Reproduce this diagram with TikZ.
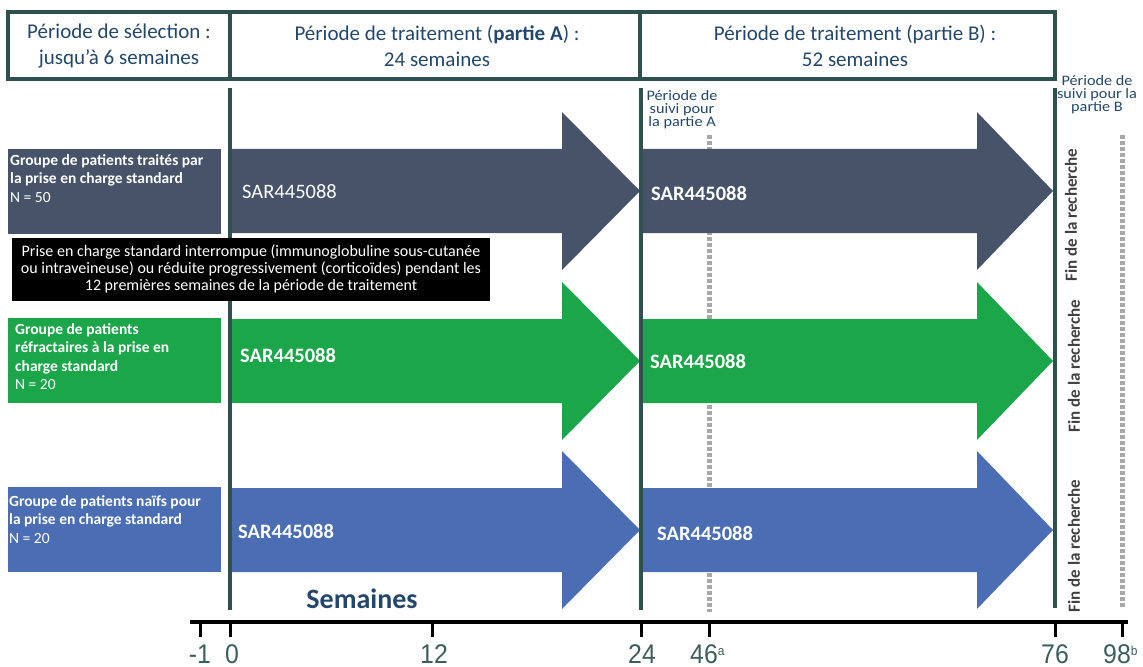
\documentclass[tikz,border=0pt]{standalone}
\usepackage{fontspec}
\setmainfont{Carlito}
\newfontfamily\narrowfont[FakeStretch=0.92]{Liberation Sans}
\newfontfamily\widefont[FakeStretch=1.12]{Carlito}
\usetikzlibrary{calc}
\definecolor{teal}{HTML}{2E504E}
\definecolor{hdr}{HTML}{23476B}
\definecolor{darkarr}{HTML}{465369}
\definecolor{greenarr}{HTML}{1BA64A}
\definecolor{bluearr}{HTML}{4A6DB4}
\definecolor{dashgrey}{HTML}{A8A8A8}
\definecolor{ticktxt}{HTML}{3C5E5C}
\definecolor{fintxt}{HTML}{404040}
\newcommand{\fs}[2]{\fontsize{#1bp}{#2bp}\selectfont}
\tikzset{
  hdrbox/.style={draw=teal, line width=4bp},
  hdrtxt/.style={text=hdr, align=center, font=\fs{21}{26}},
  vline/.style={draw=teal, line width=4bp},
  dashl/.style={draw=dashgrey, line width=5bp, dash pattern=on 4bp off 2bp},
  grpbox/.style={anchor=north west, minimum width=213bp, minimum height=85bp, inner sep=0pt},
  grptxt/.style={anchor=north west, align=left, text=white, font=\fs{15.5}{18.5}, inner sep=0pt},
  sar/.style={anchor=west, text=white, font=\fs{20.5}{22}\bfseries, inner sep=0pt},
  fin/.style={rotate=90, text=fintxt, font=\fs{17}{18}\bfseries, inner sep=0pt},
  small/.style={text=hdr, align=center, font=\widefont\fs{14.5}{13}, inner sep=0pt},
  ticklab/.style={text=ticktxt, font=\narrowfont\fs{27}{28}, inner sep=0pt},
}
\begin{document}
\begin{tikzpicture}[x=1bp, y=-1bp]
\useasboundingbox (0,0) rectangle (1143,667);
% header boxes
\draw[hdrbox] (8,12) rectangle (230,79);
\draw[hdrbox] (230,12) rectangle (640,79);
\draw[hdrbox] (640,12) rectangle (1055,79);
\node[hdrtxt] (h1) at (119,46) {Période de sélection :\\jusqu’à 6 semaines};
\node[hdrtxt] (h2) at (437,46) {Période de traitement (\textbf{partie A}) :\\24 semaines};
\node[hdrtxt] (h3) at (855,46) {Période de traitement (partie B) :\\52 semaines};
% dashed follow-up lines
\draw[dashl] (709,135) -- (709,612);
\draw[dashl] (1122,135) -- (1122,608);
% small follow-up labels
\node[small] (sa) at (682,110) {Période de\\suivi pour\\la partie A};
\node[small] (sb) at (1097,95) {Période de\\suivi pour la\\partie B};
% arrows
\foreach \yc/\col in {191/darkarr, 361/greenarr, 530/bluearr}{
  \fill[\col] (232,\yc-42) -- (562,\yc-42) -- (562,\yc-79) -- (640,\yc) -- (562,\yc+79) -- (562,\yc+42) -- (232,\yc+42) -- cycle;
  \fill[\col] (643,\yc-42) -- (977,\yc-42) -- (977,\yc-79) -- (1053,\yc) -- (977,\yc+79) -- (977,\yc+42) -- (643,\yc+42) -- cycle;
}
% vertical lines
\draw[vline] (230,88) -- (230,610);
\draw[vline] (641,88) -- (641,610);
\draw[vline] (1055,88) -- (1055,608);
% group boxes
\node[grpbox, fill=darkarr] (g1) at (8,149) {};
\node[grpbox, fill=greenarr] (g2) at (8,318) {};
\node[grpbox, fill=bluearr] (g3) at (8,487) {};
\node[grptxt] (t1) at (10,154) {\textbf{Groupe de patients traités par}\\\textbf{la prise en charge standard}\\N = 50};
\node[grptxt] (t2) at (15,323) {\textbf{Groupe de patients}\\\textbf{réfractaires à la prise en}\\\textbf{charge standard}\\N = 20};
\node[grptxt] (t3) at (9,495) {\textbf{Groupe de patients naïfs pour}\\\textbf{la prise en charge standard}\\N = 20};
% black note
\node[fill=black, text=white, align=center, font=\fs{16}{17}, minimum width=478bp, minimum height=63bp, inner sep=0pt] (note) at (251,269)
 {Prise en charge standard interrompue (immunoglobuline sous-cutanée\\ou intraveineuse) ou réduite progressivement (corticoïdes) pendant les\\12 premières semaines de la période de traitement};
% SAR labels
\node[sar, font=\fs{20.5}{22}] (s1) at (242,192) {SAR445088};
\node[sar] (s2) at (651,193) {SAR445088};
\node[sar] (s3) at (240,355) {SAR445088};
\node[sar] (s4) at (650,361) {SAR445088};
\node[sar] (s5) at (238,531) {SAR445088};
\node[sar] (s6) at (657,533) {SAR445088};
% fin de la recherche
\node[fin] (f1) at (1071,215) {Fin de la recherche};
\node[fin] (f2) at (1074,366) {Fin de la recherche};
\node[fin] (f3) at (1074,546) {Fin de la recherche};
% semaines
\node[text=hdr, font=\fs{28}{30}\bfseries, inner sep=0pt] (sem) at (362,599) {Semaines};
% axis
\coordinate (ax0) at (190,622);
\coordinate (ax1) at (1128,622);
\draw[line width=4bp] (ax0) -- (ax1);
\foreach \xx in {200, 230, 432, 641, 709, 1055, 1122}{
  \draw[line width=3bp] (\xx,622) -- (\xx,637);
}
\node[ticklab] (l1) at (200,654) {-1};
\node[ticklab] (l2) at (232,654) {0};
\node[ticklab] (l3) at (434,654) {12};
\node[ticklab] (l4) at (642,654) {24};
\node[ticklab, anchor=west] (l5) at (690,654) {46\raisebox{8bp}{\fs{13}{13}a}};
\node[ticklab] (l6) at (1055,654) {76};
\node[ticklab, anchor=west] (l7) at (1103,654) {98\raisebox{8bp}{\fs{13}{13}b}};
\end{tikzpicture}
\end{document}
